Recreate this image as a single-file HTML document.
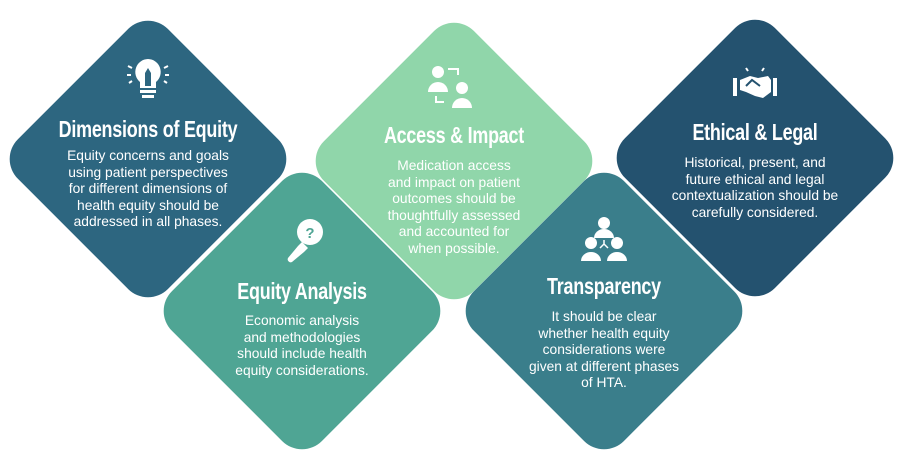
<!DOCTYPE html>
<html><head><style>
body{margin:0;width:898px;height:458px;background:#fff;position:relative;overflow:hidden;font-family:"Liberation Sans",sans-serif;}
.d{position:absolute;width:212px;height:212px;border-radius:28px;transform:rotate(45deg);}
.t{position:absolute;color:#fff;text-align:center;width:260px;}
.h{font-weight:bold;font-size:23px;line-height:24px;letter-spacing:-0.3px;transform:scaleX(0.78);white-space:nowrap;}
.b{font-size:13.8px;line-height:16.5px;}
svg{position:absolute;}
</style></head><body>
<div class="d" style="left:42px;top:53px;background:#2d6680"></div>
<div class="d" style="left:196px;top:205px;background:#4fa594"></div>
<div class="d" style="left:348px;top:55px;background:#90d6aa"></div>
<div class="d" style="left:498px;top:205px;background:#3a7e8b"></div>
<div class="d" style="left:649px;top:52px;background:#24526f"></div>

<svg style="left:125px;top:56px" width="46" height="48" viewBox="0 0 46 48" fill="#fff" stroke="#fff">
<path d="M23 3a13 13 0 0 0-8 23v6h16v-6a13 13 0 0 0-8-23z" stroke="none"/>
<path d="M20 30v-13l3-5 3 5v13z" fill="#2d6680" stroke="none"/>
<rect x="15" y="34" width="16" height="3" stroke="none"/><rect x="17" y="39" width="12" height="3" stroke="none"/>
<path d="M3 10l4 2M2 19h4M4 27l3-2M43 10l-4 2M44 19h-4M42 27l-3-2" stroke-width="2"/>
</svg>
<svg style="left:280px;top:218px" width="46" height="46" viewBox="0 0 46 46" fill="#fff">
<circle cx="30" cy="14" r="13"/><path d="M22 24l-4 4-10 12a3 3 0 0 0 4 4l12-10 4-4z"/>
<text x="30" y="20" font-size="15" font-weight="bold" text-anchor="middle" fill="#4fa594" font-family="Liberation Sans">?</text>
</svg>
<svg style="left:428px;top:64px" width="48" height="46" viewBox="0 0 48 46" fill="#fff">
<circle cx="10" cy="8" r="6"/><path d="M0 28a10 10 0 0 1 20 0z"/>
<circle cx="34" cy="24" r="6"/><path d="M24 44a10 10 0 0 1 20 0z"/>
<path d="M20 5h10v6" fill="none" stroke="#fff" stroke-width="2"/><path d="M8 32v6h8" fill="none" stroke="#fff" stroke-width="2"/>
</svg>
<svg style="left:580px;top:216px" width="48" height="46" viewBox="0 0 48 46" fill="#fff">
<circle cx="24" cy="7" r="6"/><path d="M14 22a10 9 0 0 1 20 0z"/>
<circle cx="11" cy="27" r="6"/><path d="M1 45a10 9 0 0 1 20 0z"/>
<circle cx="37" cy="27" r="6"/><path d="M27 45a10 9 0 0 1 20 0z"/>
<path d="M24 24v4l-4 4M24 28l4 4" fill="none" stroke="#fff" stroke-width="1.5"/>
</svg>
<svg style="left:732px;top:66px" width="46" height="34" viewBox="0 0 46 34" fill="#fff">
<rect x="1" y="12" width="4" height="18"/><rect x="41" y="12" width="4" height="18"/>
<path d="M8 14l10-4 8 2 10-2 3 4v12l-8 6-8-2-9-4-6-2z"/>
<path d="M14 20l6-6 8 6" fill="none" stroke="#24526f" stroke-width="2"/>
<path d="M14 2l2 3M32 2l-2 3" stroke="#fff" stroke-width="2"/>
</svg>

<div class="t" style="left:18px;top:117px"><div class="h">Dimensions of Equity</div>
<div class="b" style="margin-top:7px">Equity concerns and goals<br>using patient perspectives<br>for different dimensions of<br>health equity should be<br>addressed in all phases.</div></div>

<div class="t" style="left:172px;top:279px"><div class="h">Equity Analysis</div>
<div class="b" style="margin-top:10px">Economic analysis<br>and methodologies<br>should include health<br>equity considerations.</div></div>

<div class="t" style="left:324px;top:123px"><div class="h">Access &amp; Impact</div>
<div class="b" style="margin-top:11px">Medication access<br>and impact on patient<br>outcomes should be<br>thoughtfully assessed<br>and accounted for<br>when possible.</div></div>

<div class="t" style="left:474px;top:274px"><div class="h">Transparency</div>
<div class="b" style="margin-top:11px">It should be clear<br>whether health equity<br>considerations were<br>given at different phases<br>of HTA.</div></div>

<div class="t" style="left:625px;top:120px"><div class="h">Ethical &amp; Legal</div>
<div class="b" style="margin-top:11px">Historical, present, and<br>future ethical and legal<br>contextualization should be<br>carefully considered.</div></div>
</body></html>
